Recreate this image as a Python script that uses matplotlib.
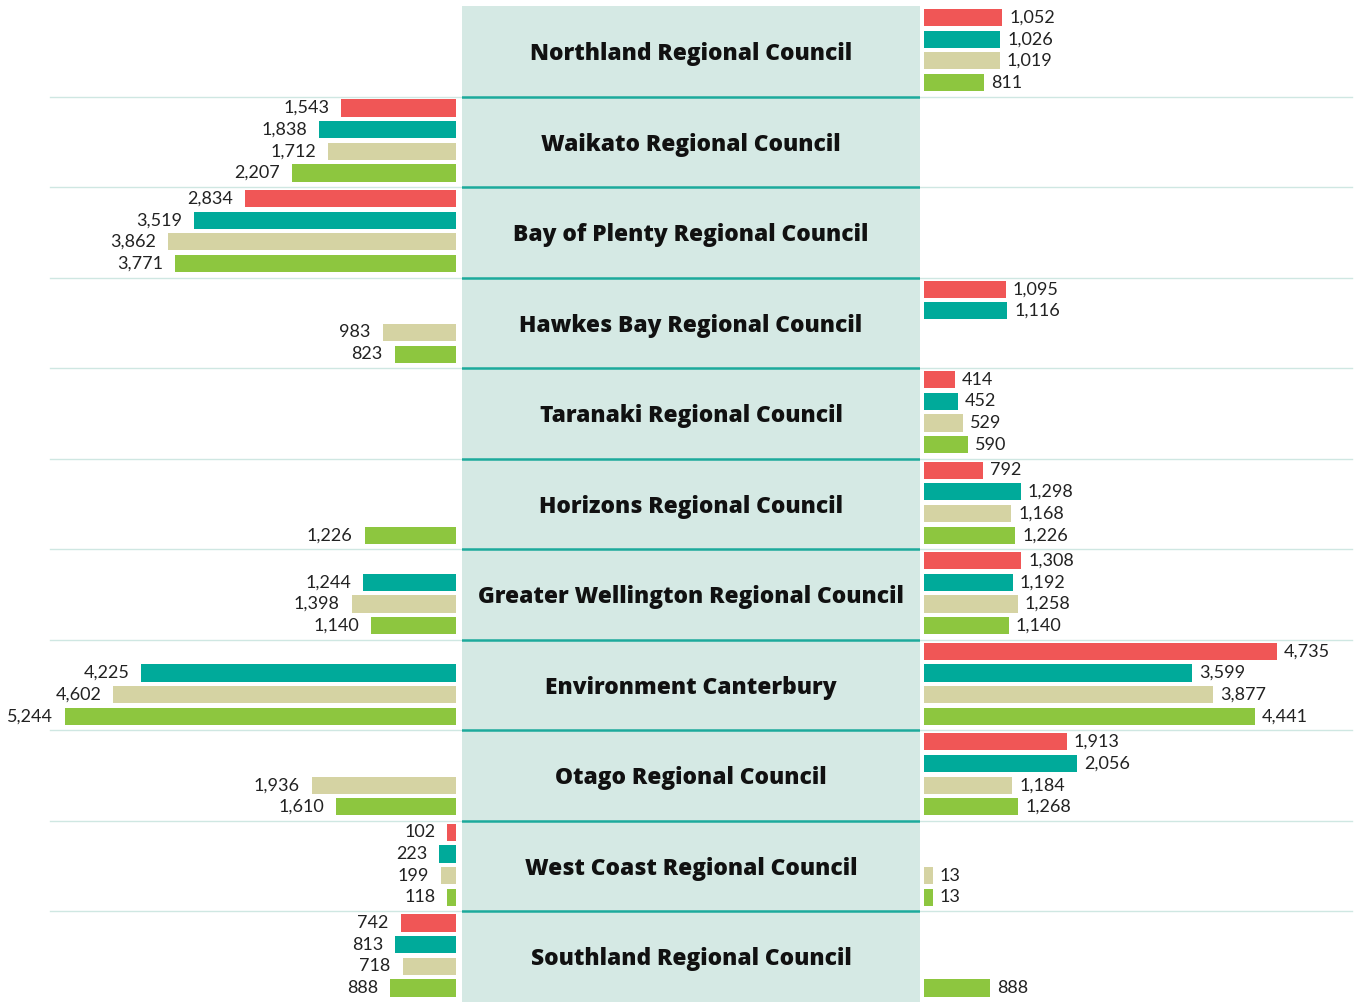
import numpy as np
import matplotlib.pyplot as plt

councils = ['Northland Regional Council', 'Waikato Regional Council',
            'Bay of Plenty Regional Council', 'Hawkes Bay Regional Council',
            'Taranaki Regional Council', 'Horizons Regional Council',
            'Greater Wellington Regional Council', 'Environment Canterbury',
            'Otago Regional Council', 'West Coast Regional Council',
            'Southland Regional Council']

# four series per council, None = no bar (order: red, teal, beige, green)
left_red   = [None, 1543, 2834, None, None, None, None, None, None, 102, 742]
left_teal  = [None, 1838, 3519, None, None, None, 1244, 4225, None, 223, 813]
left_beige = [None, 1712, 3862, 983, None, None, 1398, 4602, 1936, 199, 718]
left_green = [None, 2207, 3771, 823, None, 1226, 1140, 5244, 1610, 118, 888]

right_red   = [1052, None, None, 1095, 414, 792, 1308, 4735, 1913, None, None]
right_teal  = [1026, None, None, 1116, 452, 1298, 1192, 3599, 2056, None, None]
right_beige = [1019, None, None, None, 529, 1168, 1258, 3877, 1184, 13, None]
right_green = [811, None, None, None, 590, 1226, 1140, 4441, 1268, 13, 888]

colors = ['#F05656', '#00AA9A', '#D5D3A3', '#8DC63F']

W, H = 1356, 1002
px_per_unit = 0.0745
min_len = 115   # tiny values still get a visible stub
n = len(councils)
top = 6

plt.rcParams['font.family'] = ['Lato', 'DejaVu Sans']

fig = plt.figure(figsize=(W / 100, H / 100), dpi=100)
fig.patch.set_facecolor('white')
hfrac = (H - top) / H

# background with thin separators
bg = fig.add_axes([0, 0, 1, hfrac], zorder=0)
bg.set_xlim(0, W)
bg.set_ylim(n, 0)
bg.axis('off')
for k in range(1, n):
    bg.plot([50, 1352], [k, k], color='#CFE7E2', lw=1.0)

# center panel
mid = fig.add_axes([462 / W, 0, (920 - 462) / W, hfrac], zorder=1)
mid.set_facecolor('#D5E9E4')
mid.set_xlim(0, 1)
mid.set_ylim(n, 0)
mid.set_xticks([])
mid.set_yticks([])
for s in mid.spines.values():
    s.set_visible(False)
for k in range(1, n):
    mid.axhline(k, color='#1DAA9C', lw=1.8)
for i, name in enumerate(councils):
    mid.text(0.5, i + 0.53, name, ha='center', va='center',
             fontsize=16.4, fontweight='heavy', color='#111111',
             family=['Open Sans', 'DejaVu Sans'])

left = fig.add_axes([0, 0, 456 / W, hfrac], zorder=2)
left.set_xlim(456 / px_per_unit, 0)
right = fig.add_axes([924 / W, 0, (W - 924) / W, hfrac], zorder=2)
right.set_xlim(0, (W - 924) / px_per_unit)

offsets = [0.127, 0.366, 0.605, 0.845]
bar_h = 0.19

for ax, series, dx, ha in [(left, [left_red, left_teal, left_beige, left_green], -12, 'right'),
                           (right, [right_red, right_teal, right_beige, right_green], 7, 'left')]:
    ax.set_ylim(n, 0)
    ax.axis('off')
    ax.patch.set_alpha(0)
    for j, vals in enumerate(series):
        for i, v in enumerate(vals):
            if v is None:
                continue
            y = i + offsets[j]
            length = max(v, min_len)
            ax.barh(y, length, height=bar_h, color=colors[j])
            ax.annotate('{:,}'.format(v), xy=(length, y), xytext=(dx, 0),
                        textcoords='offset pixels', ha=ha, va='center',
                        fontsize=13, color='#222222', annotation_clip=False)

fig.savefig('out.png', dpi=100)
